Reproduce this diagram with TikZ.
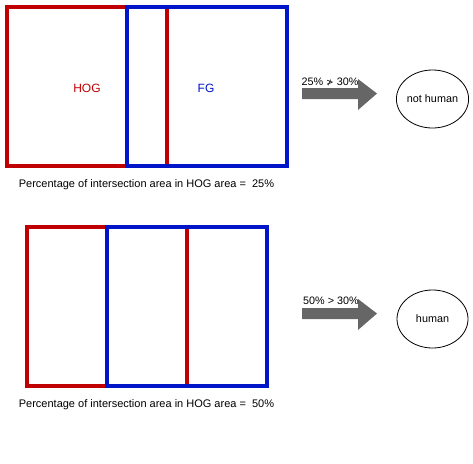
\documentclass[tikz,border=0pt]{standalone}
\usepackage{fontspec}
\setmainfont{Liberation Sans}
\newfontfamily\symfont{DejaVu Sans}
\usetikzlibrary{shapes.geometric,shapes.arrows}
\definecolor{hogred}{RGB}{192,0,0}
\definecolor{fgblue}{RGB}{0,20,200}
\definecolor{arrowgray}{RGB}{102,102,102}
\tikzset{
  hogbox/.style={draw=hogred,line width=4pt},
  fgbox/.style={draw=fgblue,line width=4pt},
  caption/.style={font=\fontsize{11}{13}\selectfont,inner sep=0pt},
  boxlabel/.style={font=\fontsize{12}{14}\selectfont,inner sep=0pt},
  cmplabel/.style={font=\fontsize{10.8}{12}\selectfont,inner sep=0pt},
  result/.style={draw,ellipse,line width=0.8pt,minimum width=71pt,minimum height=58pt,inner sep=0pt,font=\fontsize{10.8}{12}\selectfont},
  bigarrow/.style={fill=arrowgray,draw=none}
}
\begin{document}
\begin{tikzpicture}[x=1pt,y=-1pt]
\useasboundingbox (0,0) rectangle (473,463);
% top pair
\draw[hogbox] (7,7) rectangle (167,166);
\draw[fgbox] (127,7) rectangle (287,166);
\node[boxlabel,text=hogred] (hog1) at (87,88) {HOG};
\node[boxlabel,text=fgblue] (fg1) at (206,88) {FG};
\node[caption] (cap1) at (146.5,185) {Percentage of intersection area in HOG area =\ \ 25\%};
\fill[bigarrow] (302,88) -- (358,88) -- (358,79) -- (377,93.5) -- (358,110) -- (358,99) -- (302,99) -- cycle;
\node[cmplabel] (cmp1) at (330,82) {25\% {\symfont\fontsize{9}{12}\selectfont≯} 30\%};
\node[result] (res1) at (432.5,99) {not human};
% bottom pair
\draw[hogbox] (27,227) rectangle (187,386);
\draw[fgbox] (107,227) rectangle (267,386);
\node[caption] (cap2) at (146.5,405) {Percentage of intersection area in HOG area =\ \ 50\%};
\fill[bigarrow] (302,308) -- (358,308) -- (358,299) -- (377,313.5) -- (358,330) -- (358,319) -- (302,319) -- cycle;
\node[cmplabel] (cmp2) at (331,301) {50\% > 30\%};
\node[result] (res2) at (432.5,319) {human};
\end{tikzpicture}
\end{document}
